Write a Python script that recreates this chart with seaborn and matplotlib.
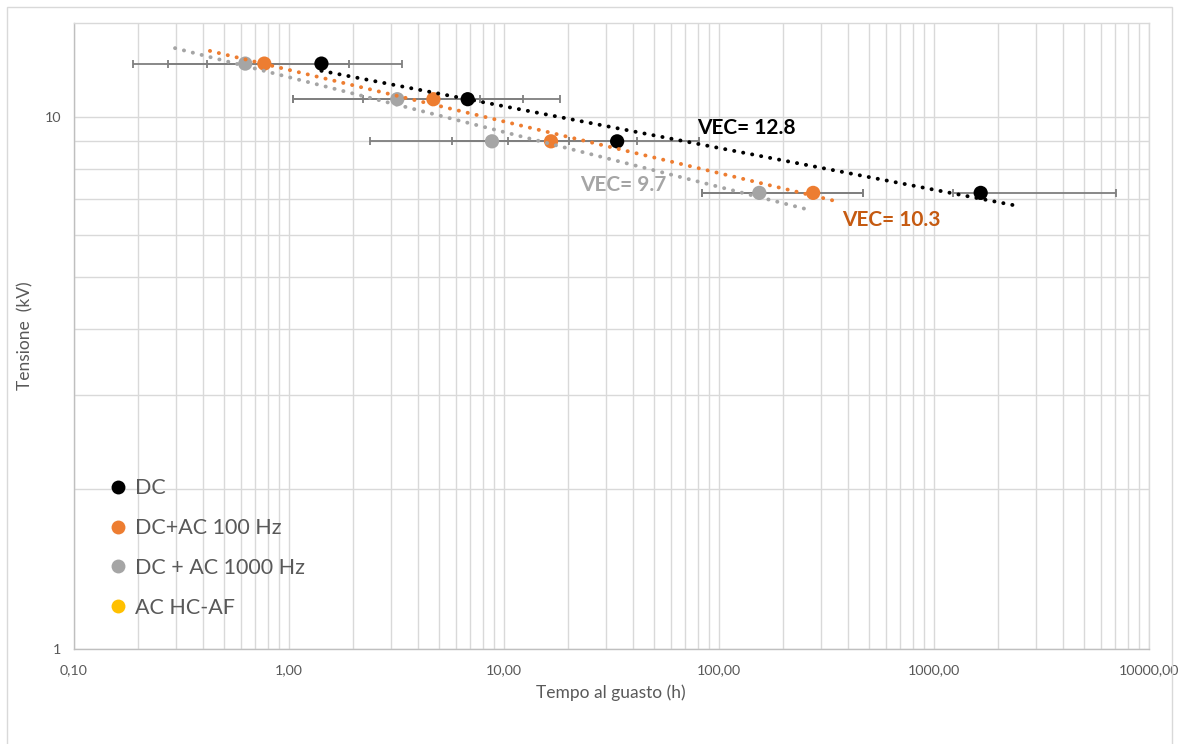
import numpy as np
import pandas as pd
import matplotlib
matplotlib.use("Agg")
import matplotlib.pyplot as plt
import seaborn as sns
from matplotlib.lines import Line2D
from matplotlib.patches import Rectangle
from matplotlib.ticker import FixedLocator, NullFormatter

# ---------------- data ----------------
series_names = ["DC", "DC+AC 100 Hz", "DC + AC 1000 Hz"]
legend_labels = ["DC", "DC+AC 100 Hz", "DC + AC 1000 Hz", "AC HC-AF"]
voltage_kv = [12.6, 10.8, 9.0, 7.2]

time_dc = [1.42, 6.8, 33.7, 1654]
time_ac100 = [0.77, 4.71, 16.6, 275]
time_ac1000 = [0.628, 3.2, 8.82, 154.5]

err_lo_dc = [0.418, 2.22, 10.5, 1233]
err_hi_dc = [3.354, 18.27, 81.2, 7047]
err_lo_ac100 = [0.274, 1.044, 5.77, 83.4]
err_hi_ac100 = [1.914, 12.26, 41.6, 470.6]
err_lo_ac1000 = [0.188, 1.044, 2.39, 83.4]
err_hi_ac1000 = [1.40, 7.76, 20.2, 470.6]

trend_range_dc = [1.42, 2466]
trend_range_ac100 = [0.43, 364]
trend_range_ac1000 = [0.296, 252]

vec_labels = ["VEC= 12.8", "VEC= 10.3", "VEC= 9.7"]
vec_pos_x = [79.3, 374.6, 22.6]
vec_pos_y = [9.54, 6.40, 7.45]

x_ticks = [0.1, 1, 10, 100, 1000, 10000]
x_tick_labels = ["0,10", "1,00", "10,00", "100,00", "1000,00", "10000,00"]
y_ticks = [1, 10]
y_tick_labels = ["1", "10"]

colors = ["#000000", "#ED7D31", "#A5A5A5", "#FFC000"]
vec_colors = ["#000000", "#C55A11", "#A5A5A5"]

# ---------------- figure ----------------
sns.set_theme(style="white")
plt.rcParams["font.family"] = ["Lato", "DejaVu Sans"]

fig = plt.figure(figsize=(11.79, 7.44), dpi=100)
ax = fig.add_axes([73.7 / 1179, 1 - 649 / 744, 1075 / 1179, (649 - 23.3) / 744])

ax.set_xscale("log")
ax.set_yscale("log")
ax.set_xlim(0.1, 10000)
ax.set_ylim(1, 15)

minor_x = [m * 10.0 ** e for e in range(-1, 4) for m in range(2, 10)]
minor_y = [m for m in range(2, 10)]
ax.xaxis.set_major_locator(FixedLocator(x_ticks))
ax.xaxis.set_minor_locator(FixedLocator(minor_x))
ax.yaxis.set_major_locator(FixedLocator(y_ticks))
ax.yaxis.set_minor_locator(FixedLocator(minor_y))
ax.set_xticklabels(x_tick_labels)
ax.set_yticklabels(y_tick_labels)
ax.xaxis.set_minor_formatter(NullFormatter())
ax.yaxis.set_minor_formatter(NullFormatter())

grid_c = "#D9D9D9"
ax.grid(True, which="both", color=grid_c, linewidth=1.0)
ax.set_axisbelow(True)
for s in ["top", "right"]:
    ax.spines[s].set_color(grid_c)
    ax.spines[s].set_linewidth(1.0)
for s in ["left", "bottom"]:
    ax.spines[s].set_color("#BFBFBF")
    ax.spines[s].set_linewidth(1.0)

ax.tick_params(axis="both", which="both", direction="out", color="#BFBFBF",
               labelcolor="#595959", labelsize=10.3)
ax.tick_params(axis="both", which="major", length=5, width=1)
ax.tick_params(axis="both", which="minor", length=5, width=1)
ax.tick_params(axis="x", pad=6)
ax.tick_params(axis="y", pad=4)

times = [time_dc, time_ac100, time_ac1000]
los = [err_lo_dc, err_lo_ac100, err_lo_ac1000]
his = [err_hi_dc, err_hi_ac100, err_hi_ac1000]
ranges = [trend_range_dc, trend_range_ac100, trend_range_ac1000]

# error bars
for t, lo, hi in zip(times, los, his):
    t = np.array(t); lo = np.array(lo); hi = np.array(hi)
    ax.errorbar(t, voltage_kv, xerr=[t - lo, hi - t], fmt="none",
                ecolor="#7F7F7F", elinewidth=1.3, capsize=3, capthick=1.3, zorder=2)

# points
df = pd.DataFrame({
    "time": np.concatenate(times),
    "voltage": voltage_kv * 3,
    "series": np.repeat(series_names, 4),
})
sns.scatterplot(data=df, x="time", y="voltage", hue="series",
                hue_order=series_names, palette=colors[:3], s=105,
                linewidth=0, legend=False, ax=ax, zorder=3)

# power trendlines (fit in log-log)
for t, rng, c in zip(times, ranges, colors[:3]):
    slope, icpt = np.polyfit(np.log10(t), np.log10(voltage_kv), 1)
    xr = np.array(rng)
    yr = 10 ** (icpt + slope * np.log10(xr))
    ax.plot(xr, yr, color=c, linewidth=2.8, linestyle=(0, (0.05, 2.3)),
            dash_capstyle="round", zorder=4)

# VEC labels
for lab, x, y, c in zip(vec_labels, vec_pos_x, vec_pos_y, vec_colors):
    ax.text(x, y, lab, color=c, fontsize=15, fontweight="bold",
            ha="left", va="center", zorder=5)

ax.set_xlabel("Tempo al guasto (h)", color="#595959", fontsize=12.5, labelpad=6)
ax.set_ylabel("Tensione  (kV)", color="#595959", fontsize=12.5, labelpad=8)

# legend
handles = [Line2D([0], [0], marker="o", linestyle="none", markersize=10,
                  markerfacecolor=c, markeredgewidth=0) for c in colors]
leg = ax.legend(handles, legend_labels, loc="center left",
                bbox_to_anchor=(101 / 1179, 1 - 548 / 744),
                bbox_transform=fig.transFigure, frameon=False,
                fontsize=15.5, labelcolor="#595959", handlelength=0.6,
                handletextpad=0.5, labelspacing=0.92, borderpad=0)

# chart area border
fig.add_artist(Rectangle((7 / 1179, -0.05), 1165 / 1179, 1.05 - 7 / 744,
                         transform=fig.transFigure, fill=False,
                         edgecolor="#D9D9D9", linewidth=1.0))

fig.savefig("out.png", dpi=100)
